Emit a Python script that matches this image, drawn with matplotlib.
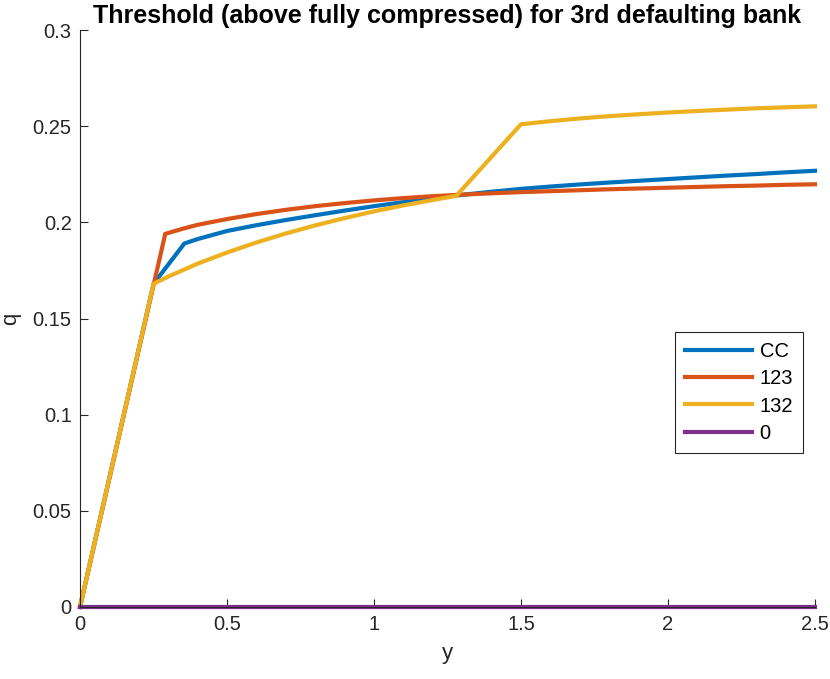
import matplotlib
matplotlib.use("Agg")
import matplotlib.pyplot as plt

# Data
cc_y = [0.0, 0.25, 0.355, 0.4, 0.5, 0.6, 0.7, 0.8, 0.9, 1.0, 1.1, 1.2, 1.3, 1.4, 1.5,
        1.6, 1.7, 1.8, 1.9, 2.0, 2.1, 2.2, 2.3, 2.4, 2.5]
cc_q = [0.0, 0.168, 0.189, 0.1913, 0.1955, 0.1985, 0.2012, 0.2037, 0.2061, 0.2084, 0.2105,
        0.2125, 0.2143, 0.2159, 0.2174, 0.2186, 0.2197, 0.2207, 0.2216, 0.2225, 0.2234,
        0.2243, 0.2251, 0.2260, 0.2268]

s123_y = [0.0, 0.29, 0.35, 0.4, 0.5, 0.6, 0.7, 0.8, 0.9, 1.0, 1.1, 1.2, 1.3, 1.4, 1.5,
          1.6, 1.7, 1.8, 1.9, 2.0, 2.1, 2.2, 2.3, 2.4, 2.5]
s123_q = [0.0, 0.194, 0.1967, 0.1987, 0.2017, 0.2043, 0.2065, 0.2084, 0.2100, 0.2114, 0.2126,
          0.2136, 0.2144, 0.2151, 0.2157, 0.2162, 0.2167, 0.2172, 0.2176, 0.2180, 0.2184,
          0.2188, 0.2191, 0.2195, 0.2198]

s132_y = [0.0, 0.25, 0.3, 0.4, 0.5, 0.6, 0.7, 0.8, 0.9, 1.0, 1.1, 1.2, 1.28, 1.5,
          1.6, 1.7, 1.8, 1.9, 2.0, 2.1, 2.2, 2.3, 2.4, 2.5]
s132_q = [0.0, 0.168, 0.1718, 0.1785, 0.1843, 0.1895, 0.1942, 0.1984, 0.2022, 0.2057, 0.2088,
          0.2116, 0.2138, 0.2510, 0.2526, 0.2540, 0.2552, 0.2562, 0.2571, 0.2579, 0.2586,
          0.2593, 0.2598, 0.2603]

zero_y = [0.0, 2.5]
zero_q = [0.0, 0.0]

labels = ["CC", "123", "132", "0"]
colors = ["#0072BD", "#D95319", "#EDB120", "#7E2F8E"]

xticks = [0, 0.5, 1, 1.5, 2, 2.5]
xtick_labels = ["0", "0.5", "1", "1.5", "2", "2.5"]
yticks = [0, 0.05, 0.1, 0.15, 0.2, 0.25, 0.3]
ytick_labels = ["0", "0.05", "0.1", "0.15", "0.2", "0.25", "0.3"]

plt.rcParams['font.family'] = ['Liberation Sans', 'DejaVu Sans']

fig = plt.figure(figsize=(8.3, 6.79), dpi=100)
ax = fig.add_axes([80/830, 72/679, 735/830, 577/679])

series = [(cc_y, cc_q), (s123_y, s123_q), (s132_y, s132_q), (zero_y, zero_q)]
for (xs, ys), lab, col in zip(series, labels, colors):
    ax.plot(xs, ys, color=col, lw=3, label=lab, clip_on=False, solid_joinstyle='miter')

ax.set_xlim(0, 2.5)
ax.set_ylim(0, 0.3)
ax.set_xticks(xticks)
ax.set_xticklabels(xtick_labels)
ax.set_yticks(yticks)
ax.set_yticklabels(ytick_labels)

axcol = "#262626"
for side in ["top", "right"]:
    ax.spines[side].set_visible(False)
for side in ["left", "bottom"]:
    ax.spines[side].set_color(axcol)
    ax.spines[side].set_linewidth(0.8)
ax.tick_params(direction='in', length=6, width=0.8, colors=axcol, labelsize=14.5, pad=6)

ax.set_xlabel("y", fontsize=16, color=axcol, labelpad=6)
ax.set_ylabel("q", fontsize=16, color=axcol, labelpad=8)
ax.set_title("Threshold (above fully compressed) for 3rd defaulting bank",
             fontsize=18, fontweight='bold', color='black', pad=5)

leg = ax.legend(loc='upper right', bbox_to_anchor=(0.984, 0.476), fontsize=14.5,
                handlelength=3.3, fancybox=False, framealpha=1, edgecolor="#262626",
                borderpad=0.5, labelspacing=0.4, handletextpad=0.4, borderaxespad=0)
leg.get_frame().set_linewidth(0.8)

fig.savefig("out.png", dpi=100)
